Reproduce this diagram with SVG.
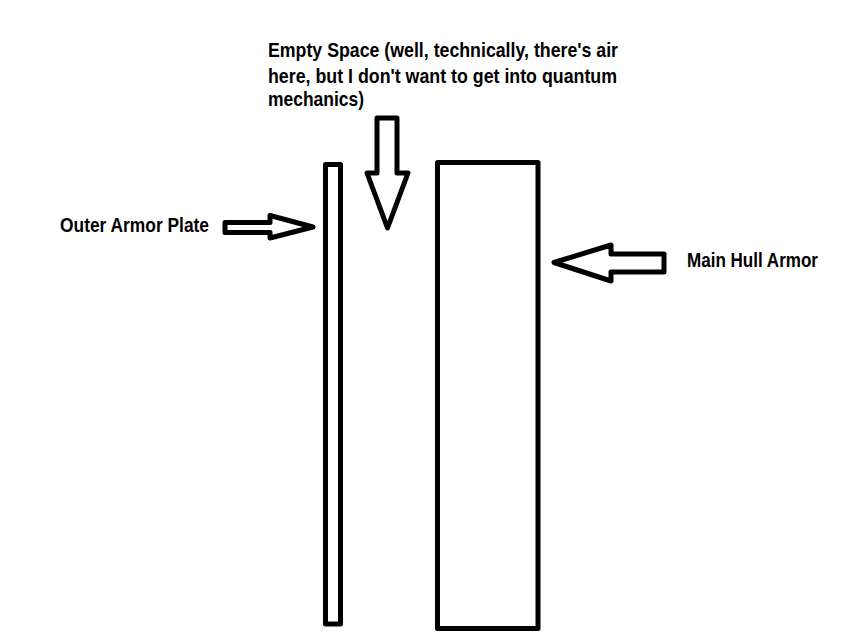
<svg xmlns="http://www.w3.org/2000/svg" width="866" height="638" viewBox="0 0 866 638">
<style>
.shape{fill:none;stroke:#000;stroke-width:5;stroke-linejoin:round}
.lbl{font-family:"Liberation Sans Narrow","Liberation Sans",Arial,sans-serif;font-weight:bold;font-size:21px;fill:#000}
</style>
<rect width="866" height="638" fill="#fff"/>
<g id="outer-plate">
<rect class="shape" x="325.5" y="164.5" width="15" height="459.5"/>
</g>
<g id="main-hull">
<rect class="shape" x="437.5" y="162.5" width="100.5" height="466"/>
</g>
<g id="label-outer">
<text class="lbl" x="60" y="231.5" textLength="149" lengthAdjust="spacingAndGlyphs">Outer Armor Plate</text>
</g>
<g id="label-hull">
<text class="lbl" x="687" y="266.5" textLength="131" lengthAdjust="spacingAndGlyphs">Main Hull Armor</text>
</g>
<g id="label-space">
<text class="lbl" x="268" y="56.5" textLength="350" lengthAdjust="spacingAndGlyphs">Empty Space (well, technically, there's air</text>
<text class="lbl" x="268" y="82.5" textLength="349" lengthAdjust="spacingAndGlyphs">here, but I don't want to get into quantum</text>
<text class="lbl" x="268" y="105.5" textLength="96" lengthAdjust="spacingAndGlyphs">mechanics)</text>
</g>
<g id="connectors">
<polygon class="shape" points="377,118 397,118 397,173 408,173 387.5,228 367,173 377,173"/>
<polygon class="shape" points="225,222.5 270,222.5 270,215.5 313,227 270,238 270,232.5 225,232.5"/>
<polygon class="shape" points="664,254 611,254 611,245 554,262.5 611,281 611,272 664,272"/>
</g>
</svg>
